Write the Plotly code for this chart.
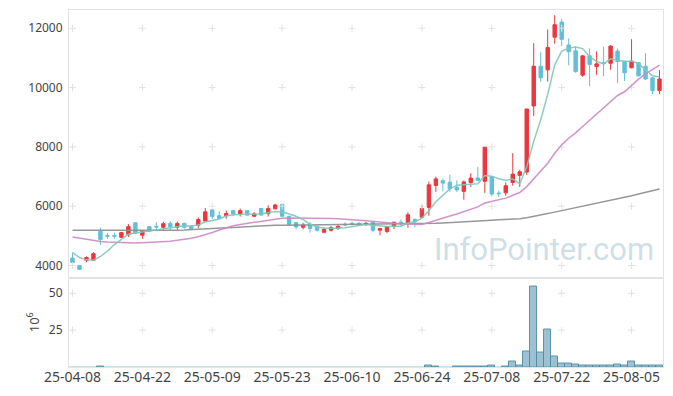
import plotly.graph_objects as go
from plotly.subplots import make_subplots

dates = ["25-04-08","25-04-09","25-04-10","25-04-11","25-04-14","25-04-15","25-04-16","25-04-17","25-04-18","25-04-21",
         "25-04-22","25-04-23","25-04-24","25-04-25","25-04-28","25-04-29","25-04-30","25-05-02","25-05-07","25-05-08",
         "25-05-09","25-05-12","25-05-13","25-05-14","25-05-15","25-05-16","25-05-19","25-05-20","25-05-21","25-05-22",
         "25-05-23","25-05-26","25-05-27","25-05-28","25-05-29","25-05-30","25-06-02","25-06-04","25-06-05","25-06-09",
         "25-06-10","25-06-11","25-06-12","25-06-13","25-06-16","25-06-17","25-06-18","25-06-19","25-06-20","25-06-23",
         "25-06-24","25-06-25","25-06-26","25-06-27","25-06-30","25-07-01","25-07-02","25-07-03","25-07-04","25-07-07",
         "25-07-08","25-07-09","25-07-10","25-07-11","25-07-14","25-07-15","25-07-16","25-07-17","25-07-18","25-07-21",
         "25-07-22","25-07-23","25-07-24","25-07-25","25-07-28","25-07-29","25-07-30","25-07-31","25-08-01","25-08-04",
         "25-08-05","25-08-06","25-08-07","25-08-08","25-08-11"]

opens = [4250,4000,4180,4180,5150,5010,5010,4950,5040,5440,
         5020,5310,5320,5290,5420,5290,5420,5320,5360,5500,
         5880,5680,5680,5850,5740,5850,5660,5920,5750,5910,
         6060,5660,5450,5290,5390,5320,5120,5190,5250,5390,
         5420,5420,5390,5450,5190,5150,5320,5460,5410,5550,
         5630,5960,6700,6860,6810,6640,6500,6800,6950,6840,
         7000,6440,6450,6800,7040,7150,9380,10720,10600,11700,
         12210,11440,11240,10420,11070,10710,10840,10820,11230,10890,
         10670,10840,10720,10330,9900]
highs = [4420,4020,4310,4450,5280,5100,5110,5130,5400,5460,
         5180,5320,5460,5470,5490,5480,5440,5360,5620,5940,
         5880,5830,5850,5880,5920,5870,5800,5930,6030,6080,
         6060,5670,5460,5440,5460,5340,5290,5330,5360,5460,
         5480,5470,5460,5460,5260,5320,5470,5550,5790,5590,
         6040,6830,7000,6930,7060,6870,6870,7110,7330,7990,
         7000,6520,6800,7790,7230,9280,11500,11200,11960,12440,
         12320,11660,11380,11090,11320,11220,11380,11430,11320,10900,
         11630,10850,11160,10340,10590]
lows = [4080,3850,4110,4150,4700,4900,4900,4930,4960,5080,
        4900,5140,5150,5200,5200,5200,5240,5200,5260,5470,
        5570,5560,5580,5660,5650,5680,5640,5690,5650,5900,
        5650,5340,5220,5220,5110,5140,5090,5140,5200,5320,
        5350,5350,5330,5130,5020,5090,5230,5320,5270,5290,
        5600,5680,6480,6500,6490,6480,6220,6650,6880,6450,
        6330,6310,6350,6690,6650,7050,9040,10200,10200,11480,
        11400,10750,10500,10360,10050,10430,10380,10600,10150,10220,
        10650,10370,10250,9780,9780]
closes = [4100,3870,4270,4400,4880,4990,4990,5110,5310,5090,
          5170,5150,5300,5410,5300,5420,5290,5250,5550,5810,
          5650,5590,5750,5740,5850,5700,5740,5700,5920,6040,
          5660,5390,5300,5360,5250,5190,5220,5280,5320,5370,
          5400,5400,5420,5190,5250,5310,5460,5420,5710,5480,
          5920,6720,6920,6780,6580,6550,6820,6950,6870,7990,
          6410,6420,6690,7080,7160,9280,10720,10330,11350,12120,
          11630,11210,10540,11070,10780,10800,10810,11400,10880,10500,
          10890,10400,10290,9900,10290]

ma5 = [4440,4270,4190,4180,4304,4482,4706,4874,5056,5098,
       5134,5166,5204,5224,5266,5316,5344,5334,5362,5464,
       5510,5570,5670,5708,5716,5726,5756,5746,5782,5820,
       5812,5742,5662,5550,5392,5298,5264,5260,5252,5276,
       5318,5354,5382,5356,5332,5314,5326,5326,5430,5476,
       5598,5850,6150,6364,6584,6710,6730,6736,6754,7036,
       7008,6928,6876,6918,6752,7326,8186,8914,9768,10760,
       11230,11328,11370,11314,11046,10880,10800,10972,10934,10878,
       10896,10814,10592,10396,10354]
ma20 = [4960,4920,4880,4840,4810,4790,4780,4770,4760,4760,
        4770,4780,4790,4800,4820,4850,4880,4920,4970,5033,
        5111,5197,5271,5338,5386,5422,5459,5489,5519,5567,
        5591,5603,5603,5601,5598,5587,5583,5585,5573,5551,
        5539,5529,5513,5485,5455,5436,5422,5408,5397,5369,
        5382,5449,5530,5601,5667,5735,5815,5899,5976,6107,
        6158,6209,6272,6367,6462,6661,6924,7169,7451,7783,
        8069,8293,8474,8689,8899,9111,9311,9533,9734,9859,
        10083,10283,10463,10604,10761]
ma60 = [5190,5190,5185,5180,5180,5175,5175,5170,5170,5170,
        5172,5175,5178,5182,5186,5192,5198,5206,5215,5228,
        5240,5255,5270,5285,5300,5315,5328,5340,5348,5355,
        5360,5362,5364,5366,5368,5370,5372,5374,5376,5378,
        5380,5382,5384,5386,5388,5390,5393,5396,5400,5405,
        5410,5418,5426,5436,5446,5458,5472,5488,5504,5518,
        5530,5540,5550,5562,5578,5610,5650,5700,5750,5800,
        5850,5900,5950,5990,6030,6080,6130,6190,6240,6300,
        6350,6410,6460,6520,6580]
volume_m = [0.05,0.05,0.05,0.05,0.5,0.05,0.05,0.05,0.05,0.05,
            0.05,0.05,0.05,0.05,0.05,0.05,0.05,0.05,0.05,0.05,
            0.05,0.05,0.05,0.05,0.05,0.05,0.05,0.05,0.05,0.05,
            0.05,0.05,0.05,0.05,0.05,0.05,0.05,0.05,0.05,0.05,
            0.05,0.05,0.05,0.05,0.05,0.05,0.05,0.05,0.05,0.05,
            0.05,1.1,0.5,0.05,0.05,0.5,0.5,0.5,0.5,0.5,
            1.1,0.05,0.4,3.4,1.3,10.8,54.7,9.5,25.5,7.4,
            2.7,2.7,1.8,1.3,1.3,0.7,1.3,1.3,2.0,1.3,
            3.4,1.3,1.3,1.3,0.7]

price_ticks = [4000, 6000, 8000, 10000, 12000]
price_tick_text = [str(v) for v in price_ticks]
vol_ticks = [25, 50]
x_ticks = dates[::10]

UP = "#ea383e"
DOWN = "#62bfd7"
FONT = "Noto Sans"
GRIDC = "#e2e2e2"
TICKFONT_Y = dict(family=FONT, size=12, color="#444")
TICKFONT_X = dict(family=FONT, size=14, color="#444")

fig = make_subplots(rows=2, cols=1, shared_xaxes=True, vertical_spacing=0,
                    row_heights=[0.7493, 0.2507])

# grid crosses at tick intersections
gx, gy = [], []
for xv in x_ticks:
    for yv in price_ticks:
        gx.append(xv); gy.append(yv)
fig.add_trace(go.Scatter(x=gx, y=gy, mode="markers", hoverinfo="skip", showlegend=False,
                         marker=dict(symbol="cross-thin", size=5, line=dict(color=GRIDC, width=1))),
              row=1, col=1)
vx, vy = [], []
for xv in x_ticks:
    for yv in vol_ticks:
        vx.append(xv); vy.append(yv)
fig.add_trace(go.Scatter(x=vx, y=vy, mode="markers", hoverinfo="skip", showlegend=False,
                         marker=dict(symbol="cross-thin", size=5, line=dict(color=GRIDC, width=1))),
              row=2, col=1)

fig.add_trace(go.Scatter(x=dates, y=ma60, mode="lines", line=dict(color="rgba(140,140,140,0.9)", width=1.5),
                         showlegend=False, hoverinfo="skip"), row=1, col=1)
fig.add_trace(go.Scatter(x=dates, y=ma20, mode="lines", line=dict(color="rgba(205,135,198,0.9)", width=1.5),
                         showlegend=False, hoverinfo="skip"), row=1, col=1)

fig.add_trace(go.Candlestick(x=dates, open=opens, high=highs, low=lows, close=closes,
                             increasing=dict(line=dict(color=UP, width=1), fillcolor=UP),
                             decreasing=dict(line=dict(color=DOWN, width=1), fillcolor=DOWN),
                             whiskerwidth=0, showlegend=False), row=1, col=1)

fig.add_trace(go.Scatter(x=dates, y=ma5, mode="lines", line=dict(color="rgba(130,198,186,0.9)", width=1.5),
                         showlegend=False, hoverinfo="skip"), row=1, col=1)

bar_line_w = [1 if v >= 0.3 else 0 for v in volume_m]
fig.add_trace(go.Bar(x=dates, y=volume_m, marker=dict(color="rgba(125,172,195,0.75)",
                                                     line=dict(color="rgba(80,140,165,0.9)", width=bar_line_w)),
                     showlegend=False), row=2, col=1)

fig.add_annotation(text="InfoPointer.com", xref="paper", yref="paper", x=0.989, y=0.272,
                   xanchor="right", yanchor="bottom", showarrow=False,
                   font=dict(family="Roboto", size=31, color="rgba(165,195,212,0.55)"))

axis_common = dict(showgrid=False, zeroline=False, showline=True, linecolor="#e3e3e3", linewidth=1,
                   mirror=True, automargin=False)

fig.update_xaxes(type="category", categoryorder="array", categoryarray=dates,
                 range=[-0.5, len(dates) - 0.5], tickmode="array",
                 tickvals=x_ticks, ticktext=x_ticks, tickangle=0, tickfont=TICKFONT_X,
                 rangeslider=dict(visible=False), **axis_common)
fig.update_xaxes(showticklabels=False, row=1, col=1)
fig.update_xaxes(showticklabels=True, ticks="", ticklabelstandoff=-3, row=2, col=1)
fig.update_yaxes(range=[3595, 12617], tickmode="array", tickvals=price_ticks, ticktext=price_tick_text,
                 tickfont=TICKFONT_Y, ticklabelstandoff=3, row=1, col=1, **axis_common)
fig.update_yaxes(range=[0, 60.7], tickmode="array", tickvals=vol_ticks, row=2, col=1,
                 tickfont=TICKFONT_Y, ticklabelstandoff=3,
                 title=dict(text="10<sup>6</sup>", font=dict(family=FONT, size=13, color="#444"), standoff=6),
                 **axis_common)

# page body has an 8px offset; margins compensate so the plot area lands where the reference has it
fig.update_layout(width=673, height=396, margin=dict(l=61, r=18, t=2, b=37, autoexpand=False),
                  paper_bgcolor="white", plot_bgcolor="white", bargap=0,
                  font=dict(family=FONT, size=13, color="#444"), hovermode=False)

fig.write_html("out.html")
